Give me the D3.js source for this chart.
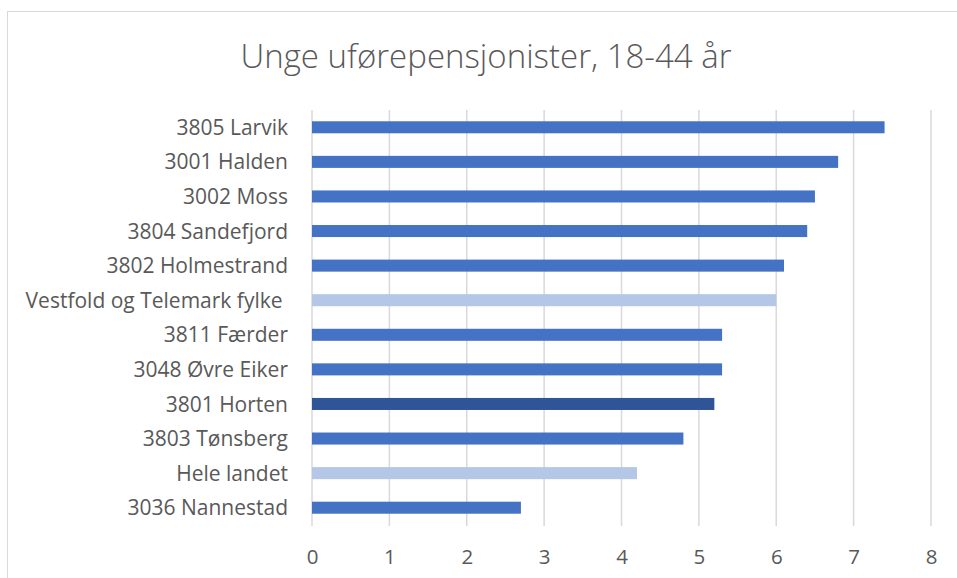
<!DOCTYPE html>
<html>
<head>
<meta charset="utf-8">
<script src="https://cdn.jsdelivr.net/npm/d3@7"></script>
<style>
  html, body { margin: 0; padding: 0; background: #fff; }
  svg { display: block; }
</style>
</head>
<body>
<svg id="chart" width="957" height="578"></svg>
<script>
// Kommuner og sammenligningsnivå, sortert etter andel
const categories = [
  "3805 Larvik", "3001 Halden", "3002 Moss", "3804 Sandefjord",
  "3802 Holmestrand", "Vestfold og Telemark fylke ", "3811 Færder",
  "3048 Øvre Eiker", "3801 Horten", "3803 Tønsberg", "Hele landet",
  "3036 Nannestad"
];
const values = [7.4, 6.8, 6.5, 6.4, 6.1, 6.0, 5.3, 5.3, 5.2, 4.8, 4.2, 2.7];
// Fargegruppe per stolpe: kommune, referanse (fylke/land) eller egen kommune
const groups = [
  "kommune", "kommune", "kommune", "kommune", "kommune", "referanse",
  "kommune", "kommune", "egen", "kommune", "referanse", "kommune"
];
const xTicks = [0, 1, 2, 3, 4, 5, 6, 7, 8];
const title = "Unge uførepensjonister, 18-44 år";

const colors = { kommune: "#4472C4", referanse: "#B4C7E7", egen: "#2F5597" };
const textColor = "#595959";
const font = "'Open Sans', 'Noto Sans', sans-serif";

const svg = d3.select("#chart");

// Diagramramme
svg.append("rect")
  .attr("x", 7.5).attr("y", 11.5)
  .attr("width", 1000).attr("height", 1000)
  .attr("fill", "#fff")
  .attr("stroke", "#d9d9d9").attr("stroke-width", 1);

const plot = { left: 312, right: 931, top: 110, bottom: 525 };

const x = d3.scaleLinear().domain([0, 8]).range([plot.left, plot.right]);
const y = d3.scaleBand()
  .domain(categories)
  .range([plot.top, plot.bottom])
  .paddingInner(0.652)
  .paddingOuter(0.326);

// Tittel
svg.append("text")
  .attr("x", 486).attr("y", 68)
  .attr("text-anchor", "middle")
  .attr("font-family", font)
  .attr("font-weight", 300)
  .attr("font-size", 33)
  .attr("fill", textColor)
  .text(title);

// Loddrette rutenettlinjer
svg.append("g")
  .selectAll("line")
  .data(xTicks)
  .join("line")
  .attr("x1", d => x(d)).attr("x2", d => x(d))
  .attr("y1", plot.top).attr("y2", plot.bottom + 1)
  .attr("stroke", "#d9d9d9")
  .attr("stroke-width", 1.5);

// Stolper
svg.append("g")
  .selectAll("rect")
  .data(categories)
  .join("rect")
  .attr("x", x(0))
  .attr("y", d => y(d))
  .attr("width", (d, i) => x(values[i]) - x(0))
  .attr("height", y.bandwidth())
  .attr("fill", (d, i) => colors[groups[i]]);

// Kategoriakse
const yAxis = svg.append("g")
  .attr("transform", `translate(${plot.left - 24},0)`)
  .call(d3.axisLeft(y).tickSize(0).tickPadding(0));
yAxis.select(".domain").remove();
yAxis.selectAll("text")
  .attr("font-family", font)
  .attr("font-size", 21)
  .attr("fill", textColor)
  .attr("dy", "0.36em")
  .style("white-space", "pre");

// Verdiakse
const xAxis = svg.append("g")
  .attr("transform", `translate(0,${plot.bottom})`)
  .call(d3.axisBottom(x).tickValues(xTicks).tickFormat(d3.format("d")).tickSize(0).tickPadding(0));
xAxis.select(".domain").remove();
xAxis.selectAll("text")
  .attr("font-family", font)
  .attr("font-size", 20.5)
  .attr("fill", textColor)
  .attr("dy", null)
  .attr("y", 39);
</script>
</body>
</html>
